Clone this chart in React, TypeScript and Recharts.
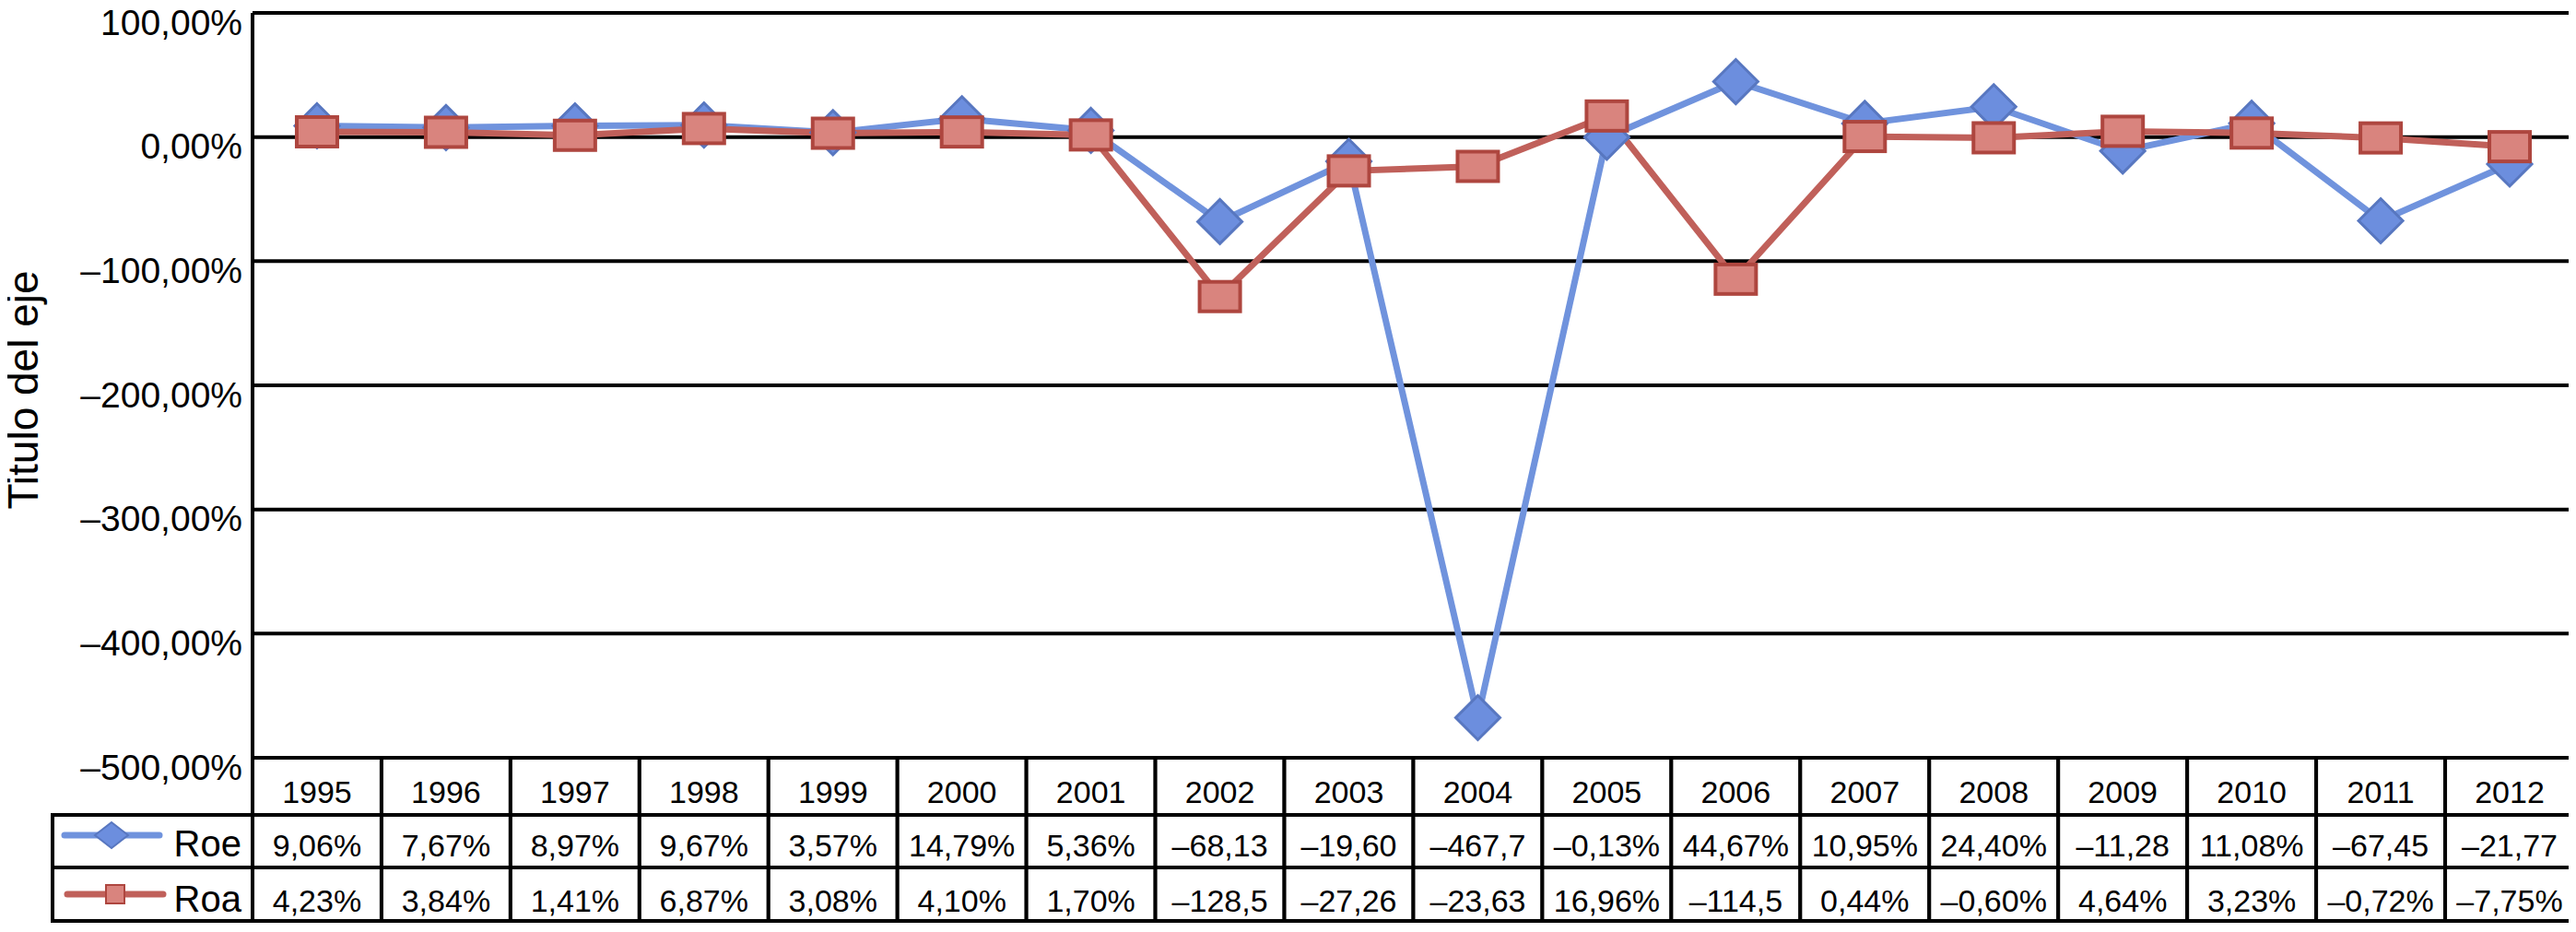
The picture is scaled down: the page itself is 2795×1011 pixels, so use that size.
import React from "react";
import { LineChart, Line, XAxis, YAxis, CartesianGrid } from "recharts";

const years = [
  "1995", "1996", "1997", "1998", "1999", "2000", "2001", "2002", "2003",
  "2004", "2005", "2006", "2007", "2008", "2009", "2010", "2011", "2012",
];
const roe = [
  9.06, 7.67, 8.97, 9.67, 3.57, 14.79, 5.36, -68.13, -19.6, -467.7, -0.13,
  44.67, 10.95, 24.4, -11.28, 11.08, -67.45, -21.77,
];
const roa = [
  4.23, 3.84, 1.41, 6.87, 3.08, 4.1, 1.7, -128.5, -27.26, -23.63, 16.96,
  -114.5, 0.44, -0.6, 4.64, 3.23, -0.72, -7.75,
];
const yTicks = [-500, -400, -300, -200, -100, 0, 100];

const data = years.map((year, i) => ({ year, roe: roe[i], roa: roa[i] }));

const W = 2795;
const H = 1011;
const PLOT_LEFT = 274;
const PLOT_RIGHT = 2793;
const PLOT_TOP = 14;
const TABLE_TOP = 822;
const ROW_LINES = [822, 884, 941, 999];
const LEGEND_LEFT = 57;
const COL_W = (PLOT_RIGHT - PLOT_LEFT) / years.length;
const FONT = "'Liberation Sans', Arial, sans-serif";

const BLUE_LINE = "#7093DD";
const BLUE_FILL = "#6C8EDE";
const BLUE_EDGE = "#5877C0";
const RED_LINE = "#C0605A";
const RED_FILL = "#D9847E";
const RED_EDGE = "#AE463F";

// excel cuts the cell text when it does not fit
const cellText = (v: number) =>
  (v.toFixed(2).replace(".", ",").replace("-", "\u2013") + "%").slice(0, 6);

const yLabel = (v: number) =>
  v.toFixed(2).replace(".", ",").replace("-", "\u2013") + "%";

const diamond = (cx: number, cy: number, rx: number, ry: number) =>
  `M${cx},${cy - ry}L${cx + rx},${cy}L${cx},${cy + ry}L${cx - rx},${cy}Z`;

const RoeDot = (props: any) => {
  const { cx, cy, index } = props;
  if (cx == null || cy == null) return <g key={`roe-${index}`} />;
  return (
    <path
      key={`roe-${index}`}
      d={diamond(cx, cy, 24, 24)}
      fill={BLUE_FILL}
      stroke={BLUE_EDGE}
      strokeWidth={3}
    />
  );
};

const RoaDot = (props: any) => {
  const { cx, cy, index } = props;
  if (cx == null || cy == null) return <g key={`roa-${index}`} />;
  return (
    <rect
      key={`roa-${index}`}
      x={cx - 22}
      y={cy - 16}
      width={44}
      height={32}
      fill={RED_FILL}
      stroke={RED_EDGE}
      strokeWidth={4}
    />
  );
};

const YTick = (props: any) => {
  const { y, payload } = props;
  return (
    <text
      x={PLOT_LEFT - 11}
      y={y + 10}
      textAnchor="end"
      dominantBaseline="central"
      fontFamily={FONT}
      fontSize={39}
      fill="#000"
    >
      {yLabel(payload.value)}
    </text>
  );
};

const cellStyle = { fill: "#fff", stroke: "#000", strokeWidth: 4 };

const TableTick = (props: any) => {
  const { x, payload } = props;
  const i = payload.index;
  const left = x - COL_W / 2;
  const [r0, r1, r2, r3] = ROW_LINES;
  const txt = { fontFamily: FONT, fontSize: 34, fill: "#000", textAnchor: "middle" as const };
  return (
    <g>
      <rect x={left} y={r0} width={COL_W} height={r1 - r0} {...cellStyle} />
      <rect x={left} y={r1} width={COL_W} height={r2 - r1} {...cellStyle} />
      <rect x={left} y={r2} width={COL_W} height={r3 - r2} {...cellStyle} />
      <text x={x} y={871} {...txt}>{payload.value}</text>
      <text x={x} y={929} {...txt}>{cellText(roe[i])}</text>
      <text x={x} y={989} {...txt}>{cellText(roa[i])}</text>
      {i === 0 && (
        <g>
          <rect x={LEGEND_LEFT} y={r1} width={PLOT_LEFT - LEGEND_LEFT} height={r2 - r1} {...cellStyle} />
          <rect x={LEGEND_LEFT} y={r2} width={PLOT_LEFT - LEGEND_LEFT} height={r3 - r2} {...cellStyle} />
          <line x1={70} x2={173} y1={906} y2={906} stroke={BLUE_LINE} strokeWidth={7} strokeLinecap="round" />
          <path d={diamond(121, 906, 18, 14)} fill={BLUE_FILL} stroke={BLUE_EDGE} strokeWidth={2} />
          <line x1={73} x2={177} y1={970} y2={970} stroke={RED_LINE} strokeWidth={7} strokeLinecap="round" />
          <rect x={115} y={960} width={20} height={20} fill={RED_FILL} stroke={RED_EDGE} strokeWidth={2} />
          <text x={262} y={929} fontFamily={FONT} fontSize={40} textAnchor="end" fill="#000">Roe</text>
          <text x={262} y={989} fontFamily={FONT} fontSize={40} textAnchor="end" fill="#000">Roa</text>
        </g>
      )}
    </g>
  );
};

const AxisTitle = () => (
  <text
    x={25}
    y={(PLOT_TOP + TABLE_TOP) / 2 + 5}
    transform={`rotate(-90, 25, ${(PLOT_TOP + TABLE_TOP) / 2 + 5})`}
    textAnchor="middle"
    dominantBaseline="central"
    fontFamily={FONT}
    fontSize={46}
    fill="#000"
  >
    Titulo del eje
  </text>
);

export default function App() {
  return (
    <div style={{ margin: -8, width: W, height: H, background: "#fff" }}>
      <LineChart
        width={W}
        height={H}
        data={data}
        margin={{ top: PLOT_TOP, right: W - PLOT_RIGHT, left: 0, bottom: 0 }}
      >
        <CartesianGrid vertical={false} stroke="#000" strokeWidth={4} />
        <XAxis
          dataKey="year"
          height={H - TABLE_TOP}
          interval={0}
          padding={{ left: COL_W / 2, right: COL_W / 2 }}
          axisLine={false}
          tickLine={false}
          tick={<TableTick />}
        />
        <YAxis
          width={PLOT_LEFT}
          domain={[-500, 100]}
          ticks={yTicks}
          allowDataOverflow
          axisLine={{ stroke: "#000", strokeWidth: 4 }}
          tickLine={false}
          tick={<YTick />}
          label={<AxisTitle />}
        />
        <Line
          dataKey="roe"
          stroke={BLUE_LINE}
          strokeWidth={7}
          dot={RoeDot}
          activeDot={false}
          isAnimationActive={false}
        />
        <Line
          dataKey="roa"
          stroke={RED_LINE}
          strokeWidth={7}
          dot={RoaDot}
          activeDot={false}
          isAnimationActive={false}
        />
      </LineChart>
    </div>
  );
}
